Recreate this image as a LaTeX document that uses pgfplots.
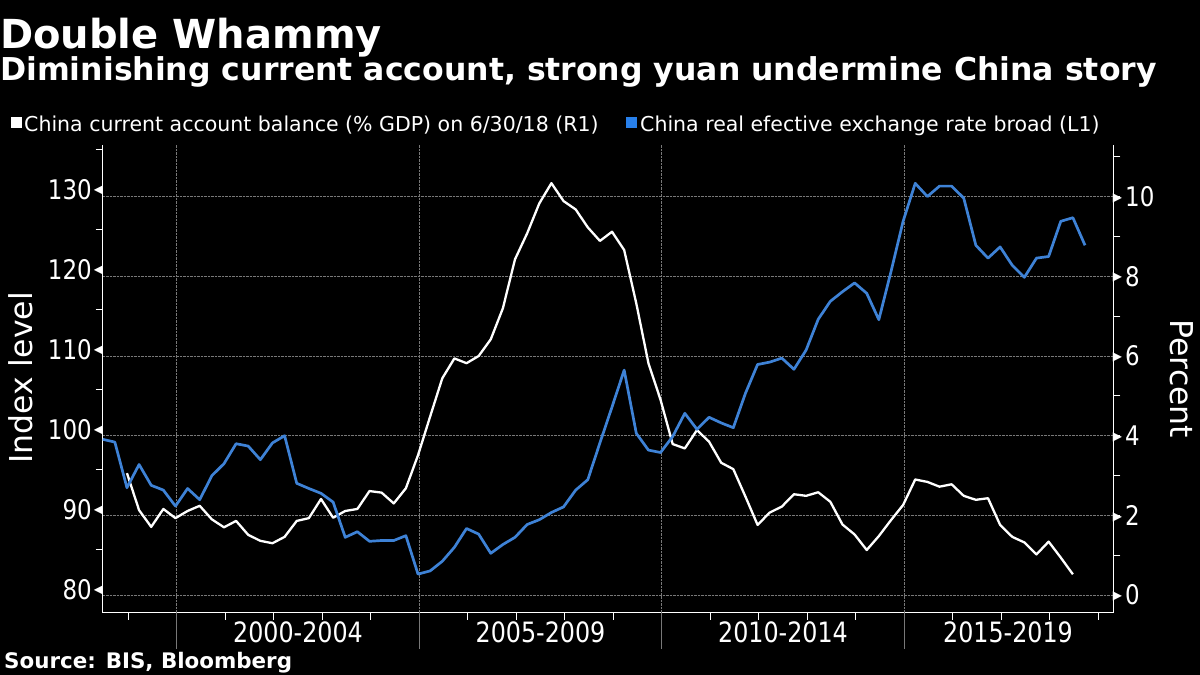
\documentclass[border=0pt]{standalone}
\usepackage{fontspec}
\setmainfont{DejaVu Sans}
\newfontfamily\tickfont{DejaVu Sans}[FakeStretch=0.85]
\newfontfamily\djv{DejaVu Sans}
\usepackage{pgfplots}
\usepackage{pgfplotstable}
\pgfplotsset{compat=1.18}
\definecolor{bblue}{RGB}{62,130,214}
\definecolor{legblue}{RGB}{40,128,235}
\definecolor{gridgray}{RGB}{120,120,120}

\pgfplotstableread{
k v
0 98.75
1 98.4
2 92.7
3 95.6
4 93.0
5 92.4
6 90.4
7 92.6
8 91.2
9 94.2
10 95.7
11 98.2
12 97.9
13 96.2
14 98.3
15 99.2
16 93.25
17 92.6
18 92.0
19 90.9
20 86.5
21 87.2
22 86.0
23 86.1
24 86.1
25 86.7
26 81.9
27 82.3
28 83.5
29 85.25
30 87.6
31 86.9
32 84.5
33 85.6
34 86.5
35 88.1
36 88.7
37 89.6
38 90.3
39 92.4
40 93.7
41 98.3
42 102.8
43 107.4
44 99.5
45 97.4
46 97.1
47 99.1
48 102.0
49 100.0
50 101.5
51 100.8
52 100.2
53 104.5
54 108.1
55 108.4
56 108.9
57 107.5
58 109.9
59 113.75
60 116.0
61 117.2
62 118.3
63 117.0
64 113.7
65 119.7
66 126.0
67 130.75
68 129.1
69 130.4
70 130.4
71 128.9
72 123.0
73 121.4
74 122.8
75 120.5
76 119.0
77 121.4
78 121.6
79 126.0
80 126.45
81 123.0
}\reertable

\pgfplotstableread{
k v
2 3.06
3 2.13
4 1.71
5 2.16
6 1.93
7 2.11
8 2.24
9 1.90
10 1.70
11 1.86
12 1.51
13 1.36
14 1.30
15 1.46
16 1.86
17 1.93
18 2.41
19 1.94
20 2.11
21 2.16
22 2.61
23 2.57
24 2.30
25 2.68
26 3.51
27 4.48
28 5.44
29 5.94
30 5.82
31 6.00
32 6.42
33 7.20
34 8.43
35 9.08
36 9.83
37 10.34
38 9.89
39 9.68
40 9.23
41 8.89
42 9.12
43 8.66
44 7.32
45 5.82
46 4.90
47 3.79
48 3.68
49 4.14
50 3.85
51 3.32
52 3.16
53 2.47
54 1.76
55 2.07
56 2.22
57 2.53
58 2.49
59 2.58
60 2.34
61 1.77
62 1.52
63 1.13
64 1.48
65 1.88
66 2.26
67 2.90
68 2.84
69 2.72
70 2.78
71 2.49
72 2.39
73 2.43
74 1.76
75 1.46
76 1.32
77 1.02
78 1.34
79 0.94
80 0.52
}\catable

\begin{document}
\begin{tikzpicture}
\fill[black] (0pt,0pt) rectangle (1200pt,675pt);
\useasboundingbox (0pt,0pt) rectangle (1200pt,675pt);

% titles
\node[anchor=base west, inner sep=0pt, text=white, font=\bfseries\fontsize{40}{44}\selectfont] at (0pt,626pt) {Double Whammy};
\node[anchor=base west, inner sep=0pt, text=white, font=\bfseries\fontsize{31.5}{36}\selectfont] at (0pt,594pt) {Diminishing current account, strong yuan undermine China story};

% legend
\fill[white] (11pt,547pt) rectangle (22pt,558pt);
\node[anchor=base west, inner sep=0pt, text=white, font=\fontsize{20.5}{24}\selectfont] at (24pt,543pt) {China current account balance (\% GDP) on 6/30/18 (R1)};
\fill[legblue] (626pt,547pt) rectangle (637pt,558pt);
\node[anchor=base west, inner sep=0pt, text=white, font=\fontsize{20.5}{24}\selectfont] at (640pt,543pt) {China real efective exchange rate broad (L1)};

% right axis (percent), white series, grids
\begin{axis}[
  at={(102.7pt,62.3pt)}, anchor=south west, scale only axis,
  width=1010.6pt, height=467.7pt,
  xmin=1998.475, xmax=2019.308, ymin=-0.444, ymax=11.298,
  axis x line*=bottom, axis y line*=right,
  axis line style={white, line width=1pt},
  xtick={1990}, minor xtick={1999,...,2019},
  ytick={0,2,...,10}, minor ytick={1,3,...,11},
  ymajorgrids,
  major grid style={gridgray, densely dotted, line width=0.8pt},
  tick align=outside, major tick length=7pt, minor tick length=7pt,
  tick style={white, line width=1pt},
  extra x ticks={2000,2005,2010,2015}, extra x tick labels={},
  extra x tick style={grid=major, major tick length=36pt, tick style={gridgray, line width=0.8pt}},
  /pgf/number format/assume math mode=true,
  yticklabel={{\djv\fontsize{12}{12}\selectfont\raisebox{5.2pt}{▶}}\hspace{3pt}\pgfmathprintnumber{\tick}},
  yticklabel style={font=\tickfont\fontsize{27}{27}\selectfont, text=white, inner sep=0pt, xshift=-7.5pt},
]
\addplot[white, line width=2.3pt, line join=round, mark=none] table[x expr=1998.475+0.25*\thisrow{k}, y=v] {\catable};
\end{axis}

% left axis (index level), blue series
\begin{axis}[
  at={(102.7pt,62.3pt)}, anchor=south west, scale only axis,
  width=1010.6pt, height=467.7pt,
  xmin=1998.475, xmax=2019.308, ymin=77.075, ymax=135.54,
  axis x line=none, axis y line*=left,
  axis line style={white, line width=1pt},
  xtick=\empty,
  ytick={80,90,...,130}, minor ytick={85,95,...,135},
  tick align=outside, major tick length=7pt, minor tick length=7pt,
  tick style={white, line width=1pt},
  /pgf/number format/assume math mode=true,
  yticklabel={\pgfmathprintnumber{\tick}\hspace{2pt}{\djv\fontsize{12}{12}\selectfont\raisebox{5.2pt}{◀}}},
  yticklabel style={font=\tickfont\fontsize{27}{27}\selectfont, text=white, inner sep=0pt, xshift=7.5pt},
]
\addplot[bblue, line width=2.7pt, line join=round, mark=none] table[x expr=1998.475+0.25*\thisrow{k}, y=v] {\reertable};
\end{axis}

% period labels
\node[anchor=base, inner sep=0pt, text=white, font=\tickfont\fontsize{28}{28}\selectfont] at (298pt,32pt) {2000-2004};
\node[anchor=base, inner sep=0pt, text=white, font=\tickfont\fontsize{28}{28}\selectfont] at (540.5pt,32pt) {2005-2009};
\node[anchor=base, inner sep=0pt, text=white, font=\tickfont\fontsize{28}{28}\selectfont] at (783pt,32pt) {2010-2014};
\node[anchor=base, inner sep=0pt, text=white, font=\tickfont\fontsize{28}{28}\selectfont] at (1008pt,32pt) {2015-2019};

% axis titles
\node[rotate=90, inner sep=0pt, text=white, font=\fontsize{31.5}{34}\selectfont] at (21pt,297pt) {Index level};
\node[rotate=-90, inner sep=0pt, text=white, font=\fontsize{31.5}{34}\selectfont] at (1182pt,296pt) {Percent};

% source
\node[anchor=base west, inner sep=0pt, text=white, font=\bfseries\fontsize{21.4}{24}\selectfont] at (4pt,6pt) {Source: BIS, Bloomberg};
\end{tikzpicture}
\end{document}
